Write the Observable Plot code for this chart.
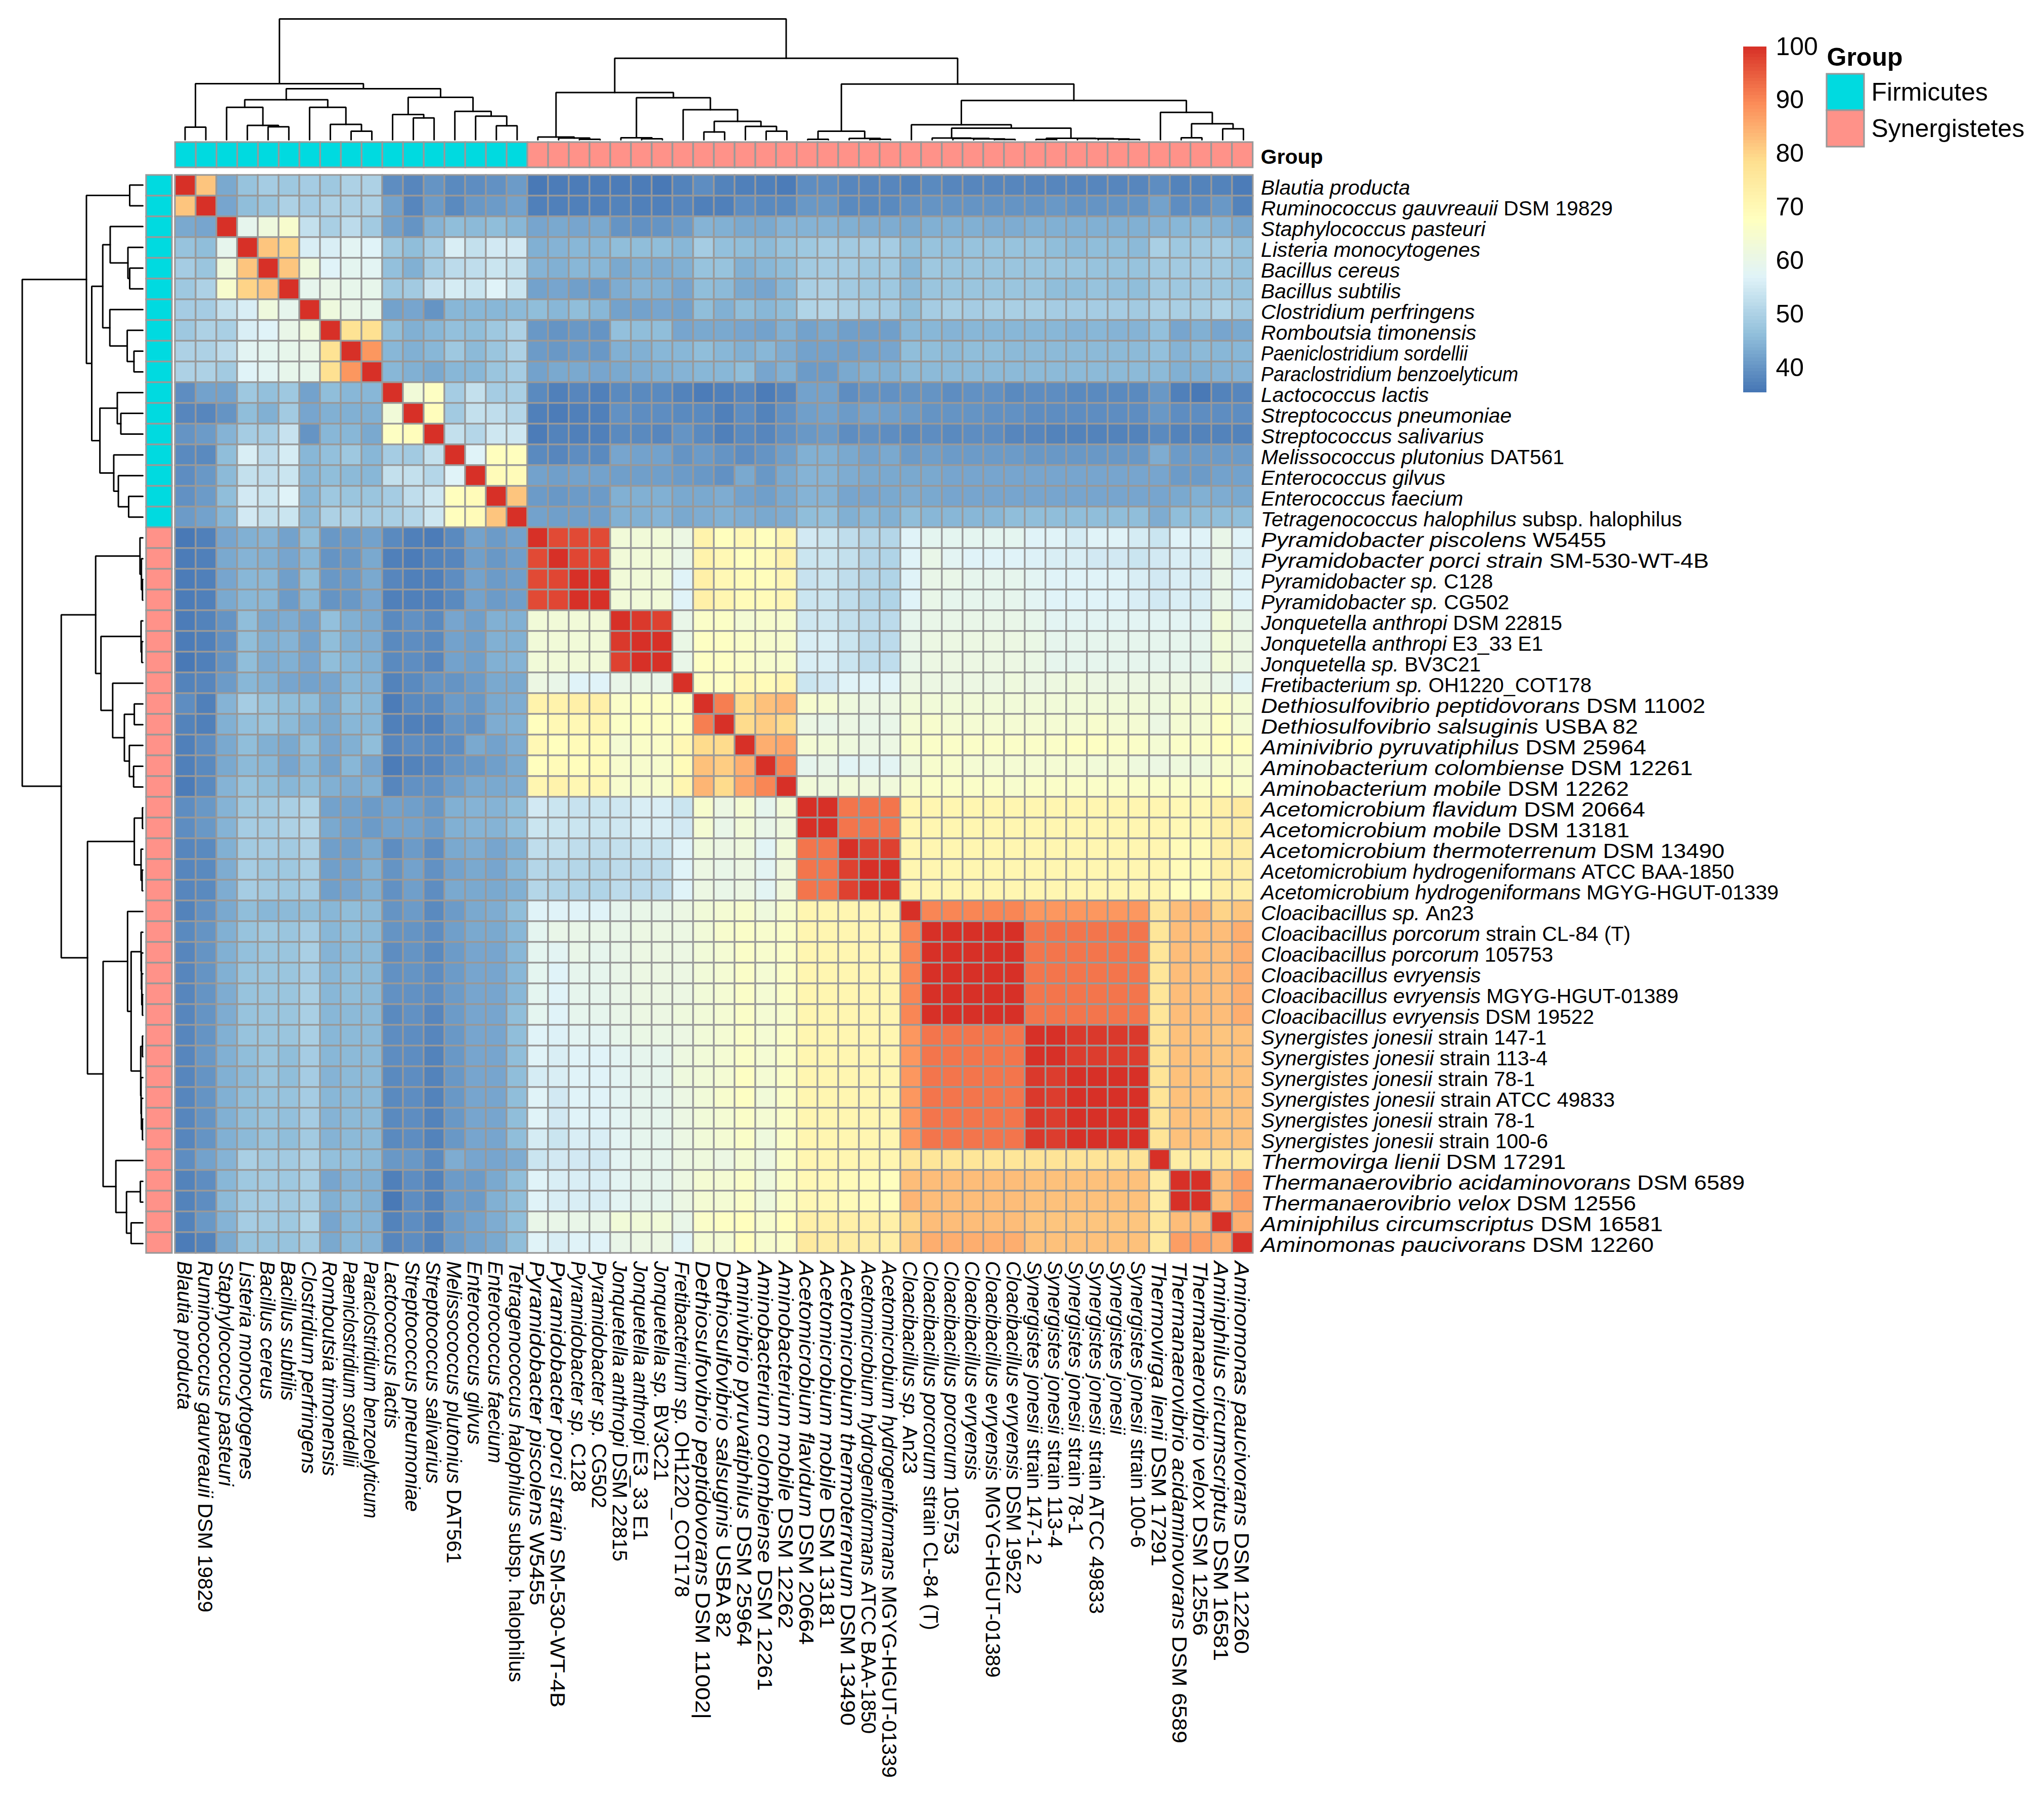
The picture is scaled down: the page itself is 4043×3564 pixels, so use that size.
<!DOCTYPE html>
<html>
<head>
<meta charset="utf-8">
<script src="https://cdn.jsdelivr.net/npm/d3@7"></script>
<script src="https://cdn.jsdelivr.net/npm/@observablehq/plot@0.6"></script>
<style>
html,body{margin:0;padding:0;background:#fff}
#chart{position:relative;width:4043px;height:3564px;background:#fff;overflow:hidden}
#chart svg{position:absolute;background:transparent;max-width:none;overflow:visible}
</style>
</head>
<body>
<div id="chart"></div>
<script>
// ---------- Data ----------
const speciesItalic = ["Blautia producta","Ruminococcus gauvreauii","Staphylococcus pasteuri","Listeria monocytogenes","Bacillus cereus","Bacillus subtilis","Clostridium perfringens","Romboutsia timonensis","Paeniclostridium sordellii","Paraclostridium benzoelyticum","Lactococcus lactis","Streptococcus pneumoniae","Streptococcus salivarius","Melissococcus plutonius","Enterococcus gilvus","Enterococcus faecium","Tetragenococcus halophilus","Pyramidobacter piscolens","Pyramidobacter porci strain","Pyramidobacter sp.","Pyramidobacter sp.","Jonquetella anthropi","Jonquetella anthropi","Jonquetella sp.","Fretibacterium sp.","Dethiosulfovibrio peptidovorans","Dethiosulfovibrio salsuginis","Aminivibrio pyruvatiphilus","Aminobacterium colombiense","Aminobacterium mobile","Acetomicrobium flavidum","Acetomicrobium mobile","Acetomicrobium thermoterrenum","Acetomicrobium hydrogeniformans","Acetomicrobium hydrogeniformans","Cloacibacillus sp.","Cloacibacillus porcorum","Cloacibacillus porcorum","Cloacibacillus evryensis","Cloacibacillus evryensis","Cloacibacillus evryensis","Synergistes jonesii","Synergistes jonesii","Synergistes jonesii","Synergistes jonesii","Synergistes jonesii","Synergistes jonesii","Thermovirga lienii","Thermanaerovibrio acidaminovorans","Thermanaerovibrio velox","Aminiphilus circumscriptus","Aminomonas paucivorans"];
const rowSuffix = ["","DSM 19829","","","","","","","","","","","","DAT561","","","subsp. halophilus","W5455","SM-530-WT-4B","C128","CG502","DSM 22815","E3_33 E1","BV3C21","OH1220_COT178","DSM 11002","USBA 82","DSM 25964","DSM 12261","DSM 12262","DSM 20664","DSM 13181","DSM 13490","ATCC BAA-1850","MGYG-HGUT-01339","An23","strain CL-84 (T)","105753","","MGYG-HGUT-01389","DSM 19522","strain 147-1","strain 113-4","strain 78-1","strain ATCC 49833","strain 78-1","strain 100-6","DSM 17291","DSM 6589","DSM 12556","DSM 16581","DSM 12260"];
const columnSuffix = ["","DSM 19829","","","","","","","","","","","","DAT561","","","subsp. halophilus","W5455","SM-530-WT-4B","C128","CG502","DSM 22815","E3_33 E1","BV3C21","OH1220_COT178","DSM 11002|","USBA 82","DSM 25964","DSM 12261","DSM 12262","DSM 20664","DSM 13181","DSM 13490","ATCC BAA-1850","MGYG-HGUT-01339","An23","strain CL-84 (T)","105753","","MGYG-HGUT-01389","DSM 19522","strain 147-1 2","strain 113-4","strain 78-1","strain ATCC 49833","","strain 100-6","DSM 17291","DSM 6589","DSM 12556","DSM 16581","DSM 12260"];
const groupNames = ["Firmicutes","Synergistetes"];
const groupColors = ["#00DAE0","#FF9289"];
const firmicutesCount = 17;
const colorStops = [35.46,46.21,56.97,67.73,78.49,89.24,100];
const colorRange = ["#4575B4","#91BFDB","#E0F3F8","#FFFFBF","#FEE090","#FC8D59","#D73027"];
const colorTicks = [40,50,60,70,80,90,100];

// Upper triangle of the identity matrix: row i holds columns i..51
const identity = [
[100,82,43,47,49,48,49,48,50,50,39,38,40,38.5,39,39.5,41, 36,36.5,36.5,36.5, 36.5,36.5,36, 37.5, 39,37.5,37,37,36.5, 39,39,38,38,38, 37.5,38.5,38,38,38,38,38,38,38,38,38,38, 39,37.5,37.5,37.5,36.5],
[100,42.5,46,47.5,50,49,50,50,50,42,38,41,38.5,40.5,41,42, 37,37,37,37, 37.5,37,37, 38, 37,37,39,38.5,38.5, 40.5,40.5,38.5,38.5,38.5, 39.5,40,40,40,40,40,40,40.5,40,40,40,40, 42,39,39,40.5,37.5],
[100,59,62,65,53,49.5,52,48.5,42,40,44.5,46,45.5,46,45, 42.5,43,42.5,43, 40,39.5,40, 41, 44.5,44,43,43,44.5, 44.5,44.5,44,43.5,43.5, 43,44,44,44,43.5,43.5,44,44,44,44,44,44, 44.5,45,45.5,44.5,43],
[100,82,80,56,56,58,57,48,46,49,56,53,55,55, 44,44.5,45,45, 46,46,46, 45, 49,46.5,46,45.5,47, 48,49,48.5,49,49, 46,47,46.5,47,47,47,47,46,45.5,46,46,45.5, 49.5,48,48.5,49,47],
[100,82,62,57,58.5,58,46.5,44,49,52,52.5,54,53, 44.5,44,45,45, 43,44,43.5, 44, 47,47,44,45,46, 48.5,49,49,48,48.5, 45,48,47.5,47.5,47.5,47.5,47.5,47.5,47.5,47,47,47, 48.5,48.5,49,48.5,47],
[100,59,60,59.5,59.5,48,48.5,53.5,55.5,54,57,54, 42,42.5,41.5,41, 43.5,44.5,44, 42.5, 46,45.5,43,42.5,45, 49.5,50,48.5,48,48, 45.5,47.5,47.5,47.5,47.5,47.5,47.5,46,46,47,46.5,46, 48.5,48,48.5,48,47],
[100,62,60,59.5,42,42.5,40,45,45,45,45.5, 46,45,46,45, 42,42,42.5, 42, 46,44,46,45,46, 50.5,51,50,49.5,49, 46,49,49.5,49,49.5,49.5,49.5,49,49,49,49,48.5, 50,49.5,49.5,50.5,48.5],
[100,77.5,78,46,44,45,46.5,46,48,50, 40.5,40,40.5,40, 46.5,46,46, 42.5, 43,43,42.5,42,44, 42,43,41.5,41.5,41.5, 45,45,44.5,45,45,45,45,45,44.5,45,44.5,44.5, 46.5,42.5,44,42.5,43],
[100,88,45,44,45,48,45.5,47.5,50, 41,40.5,41,40.5, 44,44,45, 45, 46,45,44,45,43.5, 42,42,41.5,42,42.5, 46,46,45.5,46,46,45.5,45.5,45.5,45.5,45.5,45.5,45.5, 46.5,44.5,45.5,45,45],
[100,45,44,43,45,45,47.5,49, 42,43,43,42.5, 43,43.5,44, 44.5, 45,45,46,42.5,44, 41,41,43,44,44, 45.5,45.5,45.5,45.5,45.5,45.5,45.5,45.5,45.5,45.5,45.5,45.5, 45.5,44,44,44.5,44.5],
[100,63,67,49,53,49,49.5, 38.5,37,38,37, 38.5,38.5,38.5, 37.5, 36.5,37,38,36.5,38, 42,42,39,40,39.5, 40,40,39,39.5,39.5,38.5,39,39,38.5,38.5,38.5,38.5, 40.5,37,36,37.5,38],
[100,68.5,48.5,53,52.5,51, 37,36.5,37,37, 39.5,39,39, 38.5, 38.5,37,39,37.5,39.5, 41.5,42,41,42,41.5, 41,40,40,40,39.5,39.5,39,39,39,39,39,39, 40.5,39,39,39,39],
[100,53,51,54.5,54.5, 36.5,37.5,37,37, 38.5,38.5,38, 40, 38.5,37,38.5,38,39.5, 40.5,41,39,39.5,39, 38.5,39,38.5,39,39,38,38,37.5,37.5,37.5,37.5,37.5, 38.5,37.5,37.5,37.5,37.5],
[100,57,68,68, 38.5,38,39,38.5, 42.5,42,42, 40, 41,40,39,40,41.5, 44,44,43,42,43, 41,41.5,41,41,41,41,40.5,40.5,40.5,40.5,40.5,40.5, 43.5,41,41,41,41],
[100,69,69, 42,41.5,42,42, 41.5,41.5,41.5, 41, 40.5,39.5,43,40.5,43, 44.5,44.5,43.5,43,43, 43,43,42.5,42.5,42.5,42.5,42.5,42.5,42.5,42.5,42.5,42.5, 42.5,41,41,42,42],
[100,82, 41,40.5,41,41, 44,44,44, 43, 43,43.5,42,41.5,43, 44.5,44.5,42.5,42.5,43, 43.5,43,42.5,42.5,42.5,42.5,42.5,42.5,42.5,42.5,42.5,42.5, 42.5,43,44,43.5,43],
[100, 42,41.5,41.5,41.5, 44,44,44.5, 43, 43.5,44,43.5,43,43.5, 46,46.5,44,45,44, 46,45,45,45,45,46,46,46,46,46,46,46, 43.5,46,46,46,46],
[100,97,97,97, 63,63,63, 61, 72,68,70,68,71, 55,54,52.5,51,51, 57,58.5,58.5,58.5,58.5,58.5,57,57,55.5,57,57,55.5, 54,57,57,60,57],
[100,97.5,97.5, 63,63,63, 60, 72,70,68,69,72, 54,54,53,51,50.5, 57,60,58,57,57,57,56.5,56,56,55,55,54, 55,56,56,60,56],
[100,100, 63,63,63, 57, 73,70,69,68.5,70.5, 53.5,54,52.5,51,50.5, 57,60,60,59,59,59,58,57,57,57,57,56, 55,56,56,60,57],
[100, 63,63,63, 57, 73,71,69,69,70.5, 54,54,52.5,51,50.5, 57,60,59,59,59,59,58,57,57,57,57,56, 55,56,56,60,57],
[100,99,98, 60, 66,66.5,64,65,65, 54.5,54.5,53,52,52, 59,60,60,60,60,60,59.5,58,58,58,58,58, 58,58,58,63,60],
[100,100, 60.5, 67,67,66,65,65, 56,56,54,52,52, 60,61,61,61,61,61,60.5,59,59,59,59,59, 59,59,59,63,61],
[100, 60, 67,67,66,65,65, 56,56,54,52.5,52.5, 60,61,61,61,61,61,60.5,59,59,59,59,59, 59,59,59,63,61],
[100, 67,67,70,69,71, 54,55,57,57,57, 61,61,61,61,61,62,61,61.5,62,61,61,61, 61,61,61,60,57.5],
[100,91,79,82.5,84, 65,64,62,61,61, 63,63,63,63,63,63,63,63,63,63,63,63, 62,64,64,66,64],
[100,79,81,79, 61,60,61,60,60, 64,65,64,64,64,64,64,64,64,65,64,64, 61,64,64,67,64],
[100,85,86, 64,63,62,61,61, 65,66,66,66,66,66,66,66,67,67,66,66, 64,66,66,68,68],
[100,90, 59,60,57.5,58,58, 62,65,65,64,64,64,64,64,64,63,64,62, 61,62,62,65,65],
[100, 63,62,63,62.5,62.5, 65,66,66,66,66,65,66,66,66,66,66,66, 66,66,66,68,66],
[100,100,92,92,92, 71,71,71,71,71,71,71,71,71,71,71,71, 71,70,70,73,75],
[100,92,92,92, 71,71,71,71,71,71,71,71,71,71,71,71, 71,70,70,73,74],
[100,98,98, 71,71,71,71,71,71,71,71,71,71,71,71, 71,69,69,73,74],
[100,100, 71,71,71,71,71,71,71,71,71,71,71,71, 71,69,69,73,73.5],
[100, 71,71,71,71,71,71,71,71,71,71,71,71, 71,68,68,73,73],
[100, 90,90,90,90,90, 88,88,88,88,88,88, 76,83,84,80,82],
[100,100,100,100,100, 92,92,92,92,92,92, 76.5,83,83,83,85],
[100,100,100,100, 92,92,92,92,92,92, 76.5,83,83,83,85],
[100,100,100, 92,92,92,92,92,92, 76.5,83,83,83,85],
[100,100, 92,92,92,92,92,92, 76.5,83,83,83,85],
[100, 92,92,92,92,92,92, 76.5,83,83,83,85],
[100,100,99,99,99,99, 77,82.5,82.5,82,82.5],
[100,98.5,98.5,98.5,98.5, 77,82.5,82.5,82,82.5],
[100,100,100,100, 77,82.5,82.5,82,82.5],
[100,100,100, 77,82.5,82.5,82,82.5],
[100,100, 77,82.5,82.5,82,82.5],
[100, 77,82.5,82.5,82,82.5],
[100,74,74,76,75],
[100,100,83,87],
[100,83,87],
[100,85],
[100]
];

// Dendrograms: [merge height, left, right]; a bare number is a leaf
const columnTree =
[353,
 [164, [37,0,1],
  [149,
   [117, [95,2,[42,3,[38,4,5]]], [95,6,[45,7,[25,8,9]]]],
   [124, [74,10,[64,11,12]], [83,13,[69,14,[41,15,16]]]]]],
 [238,
  [138, [8,17,[5,18,[1.5,19,20]]],
   [123, [6,21,[3,22,23]], [88,24,[54,[23,25,26],[39,27,[25,28,29]]]]]],
  [163, [25,[1.5,30,31],[4,32,[1.5,33,34]]],
   [115,
    [44,35,[34,
      [5,36,[4,37,[2.5,38,[1,39,40]]]],
      [4.5,[1,41,42],[3.5,43,[2.5,44,[1,45,46]]]]]],
    [80,47,[47,[6,48,49],[32,50,51]]]]]]];
const rowTree =
[340,
 [159, [37,0,1],
  [144,
   [113, [92,2,[42,3,[37,4,5]]], [93,6,[44,7,[25,8,9]]]],
   [121, [72,10,[62,11,12]], [82,13,[69,14,[40,15,16]]]]]],
 [230,
  [133, [8,17,[4,18,[1,19,20]]],
   [118, [5,21,[3,22,23]], [85,24,[52,[24,25,26],[38,27,[26,28,29]]]]]],
  [156, [24,[1,30,31],[5,32,[2,33,34]]],
   [112,
    [43,35,[33,
      [5,36,[4,37,[3,38,[1,39,40]]]],
      [6,[1,41,42],[5,43,[4,44,[1,45,46]]]]]],
    [76,47,[46,[7,48,49],[33,50,51]]]]]]];

// Rendered text lengths of the labels (the reference stretches some of them)
const rowLabelLengths = [295,696,444,434,275,277,423,426,409,509,332,496,441,600,365,400,833,683,886,459,491,596,558,435,654,879,746,762,854,728,760,729,917,936,1024,421,731,578,435,826,659,565,567,542,700,542,568,603,957,742,795,777];
const columnLabelLengths = [294,695,445,432,274,276,421,425,407,509,331,496,440,598,363,400,833,681,883,457,489,594,553,435,665,906,745,762,850,727,759,727,919,935,1022,421,730,581,433,824,659,601,567,540,698,343,567,604,954,741,791,777];

// ---------- Tables built from the data ----------
const n = identity.length;
const indices = d3.range(n);
const cells = [];
identity.forEach((values, i) => values.forEach((v, k) => {
  const j = i + k;
  cells.push({row: i, column: j, value: v});
  if (i !== j) cells.push({row: j, column: i, value: v});
}));
const groupOf = i => groupNames[i < firmicutesCount ? 0 : 1];
const annotation = indices.map(i => ({index: i, group: groupOf(i)}));

function treePaths(tree) {
  const paths = [];
  let id = 0;
  (function walk(node) {
    if (typeof node === "number") return {pos: node + 0.5, h: 0};
    const [h, l, r] = node;
    const a = walk(l), b = walk(r);
    const key = id++;
    paths.push({node: key, pos: a.pos, h: a.h}, {node: key, pos: a.pos, h},
               {node: key, pos: b.pos, h}, {node: key, pos: b.pos, h: b.h});
    return {pos: (a.pos + b.pos) / 2, h};
  })(tree);
  return paths;
}

// ---------- Layout ----------
const FONT = '"Liberation Sans", Arial, Helvetica, sans-serif';
const heatLeft = 345, heatTop = 345, heatSize = 2134.6, pad = 3;
const chart = document.getElementById("chart");
function place(svg, left, top) {
  svg.style.left = left + "px";
  svg.style.top = top + "px";
  chart.appendChild(svg);
  return svg;
}
function addItalics(group, suffixes, lengths) {
  const parts = new Map(indices.map(i => [speciesItalic[i] + (suffixes[i] ? " " + suffixes[i] : ""), i]));
  group.querySelectorAll("text").forEach(t => {
    const i = parts.get(t.textContent);
    if (i === undefined) return;
    t.textContent = "";
    const ns = "http://www.w3.org/2000/svg";
    const it = document.createElementNS(ns, "tspan");
    it.setAttribute("font-style", "italic");
    it.textContent = speciesItalic[i];
    t.appendChild(it);
    if (suffixes[i]) {
      const ro = document.createElementNS(ns, "tspan");
      ro.textContent = "\u00A0" + suffixes[i];
      t.appendChild(ro);
    }
    t.setAttribute("textLength", lengths[i]);
    t.setAttribute("lengthAdjust", "spacingAndGlyphs");
  });
}
const baseStyle = {fontFamily: FONT, background: "transparent", overflow: "visible"};
const rowText = i => speciesItalic[i] + (rowSuffix[i] ? " " + rowSuffix[i] : "");
const colText = i => speciesItalic[i] + (columnSuffix[i] ? " " + columnSuffix[i] : "");
const heatColor = {type: "linear", domain: colorStops, range: colorRange, clamp: true};
const groupColor = {domain: groupNames, range: groupColors};

// Main heatmap with species axes
const heat = Plot.plot({
  width: 4043 - heatLeft + pad, height: 3564 - heatTop + pad,
  marginLeft: pad, marginTop: pad, marginRight: 4043 - heatLeft - heatSize, marginBottom: 3564 - heatTop - heatSize,
  style: baseStyle,
  x: {type: "band", domain: indices, padding: 0, label: null},
  y: {type: "band", domain: indices, padding: 0, label: null},
  color: heatColor,
  marks: [
    Plot.cell(cells, {x: "column", y: "row", fill: "value", stroke: "#999999", strokeWidth: 3.2}),
    Plot.axisY(indices, {anchor: "right", tickSize: 0, tickPadding: 14, fontSize: 41, dy: 4.5, tickFormat: rowText, label: null}),
    Plot.axisX(indices, {anchor: "bottom", tickSize: 0, tickPadding: 14, tickRotate: 90, fontSize: 41, dx: -3, tickFormat: colText, label: null})
  ]
});
const heatY = heat.querySelector('[aria-label="y-axis tick label"]');
const heatX = heat.querySelector('[aria-label="x-axis tick label"]');
if (heatY) addItalics(heatY, rowSuffix, rowLabelLengths);
if (heatX) addItalics(heatX, columnSuffix, columnLabelLengths);
place(heat, heatLeft - pad, heatTop - pad);

// Top annotation strip
place(Plot.plot({
  width: heatSize + 500, height: 56,
  marginLeft: pad, marginTop: pad, marginBottom: pad, marginRight: 500 - pad,
  style: baseStyle,
  x: {type: "band", domain: indices, padding: 0, axis: null},
  y: {type: "band", domain: ["Group"], padding: 0, label: null},
  color: groupColor,
  marks: [
    Plot.cell(annotation, {x: "index", y: () => "Group", fill: "group", stroke: "#999999", strokeWidth: 3.2}),
    Plot.axisY(["Group"], {anchor: "right", tickSize: 0, tickPadding: 14, fontSize: 41, dy: 4, fontWeight: "bold", label: null})
  ]
}), heatLeft - pad, 278);

// Left annotation strip
place(Plot.plot({
  width: 57, height: heatSize + 2 * pad,
  marginLeft: pad, marginRight: pad, marginTop: pad, marginBottom: pad,
  style: baseStyle,
  x: {type: "band", domain: ["Group"], padding: 0, axis: null},
  y: {type: "band", domain: indices, padding: 0, axis: null},
  color: groupColor,
  marks: [Plot.cell(annotation, {x: () => "Group", y: "index", fill: "group", stroke: "#999999", strokeWidth: 3.2})]
}), 286, heatTop - pad);

// Column dendrogram
place(Plot.plot({
  width: heatSize, height: 277,
  marginLeft: 0, marginRight: 0, marginTop: 37, marginBottom: 1,
  style: baseStyle,
  x: {type: "linear", domain: [0, n], axis: null},
  y: {type: "linear", domain: [0, columnTree[0]], axis: null},
  marks: [Plot.line(treePaths(columnTree), {x: "pos", y: "h", z: "node", stroke: "black", strokeWidth: 3, strokeLinejoin: "miter", curve: "linear"})]
}), heatLeft, 0);

// Row dendrogram
place(Plot.plot({
  width: 283, height: heatSize,
  marginLeft: 43.5, marginRight: 1, marginTop: 0, marginBottom: 0,
  style: baseStyle,
  x: {type: "linear", domain: [rowTree[0], 0], axis: null},
  y: {type: "linear", domain: [n, 0], axis: null},
  marks: [Plot.line(treePaths(rowTree), {x: "h", y: "pos", z: "node", stroke: "black", strokeWidth: 3, strokeLinejoin: "miter", curve: "linear"})]
}), 0, heatTop);

// Colour bar
const rampStep = (colorStops[6] - colorStops[0]) / 100;
const ramp = d3.range(100).map(i => colorStops[0] + i * rampStep);
place(Plot.plot({
  width: 160, height: 720,
  marginLeft: 0, marginRight: 114, marginTop: 32, marginBottom: 4.5,
  style: {...baseStyle, shapeRendering: "crispEdges"},
  x: {type: "linear", domain: [0, 1], axis: null},
  y: {type: "linear", domain: [colorStops[0], 100], label: null},
  color: heatColor,
  marks: [
    Plot.rect(ramp, {x1: 0, x2: 1, y1: d => d, y2: d => d + rampStep, fill: d => d + rampStep / 2}),
    Plot.axisY(colorTicks, {anchor: "right", tickSize: 0, tickPadding: 18, fontSize: 50, tickFormat: d3.format("d"), label: null})
  ]
}), 3448, 60);

// Group legend
place(Plot.plot({
  width: 430, height: 220,
  marginLeft: pad, marginRight: 430 - 74 - pad, marginTop: 65, marginBottom: 10,
  style: baseStyle,
  x: {type: "band", domain: ["Group"], padding: 0, axis: null},
  y: {type: "band", domain: groupNames, padding: 0, label: null},
  color: groupColor,
  marks: [
    Plot.cell(groupNames, {x: () => "Group", y: d => d, fill: d => d, stroke: "#999999", strokeWidth: 3.2}),
    Plot.axisY(groupNames, {anchor: "right", tickSize: 0, tickPadding: 14, fontSize: 50, label: null}),
    Plot.text(["Group"], {frameAnchor: "top-left", dx: 0, dy: -32, text: d => d, fontSize: 50, fontWeight: "bold", textAnchor: "start", lineAnchor: "middle", fill: "black"})
  ]
}), 3613 - pad, 80);
</script>
</body>
</html>
